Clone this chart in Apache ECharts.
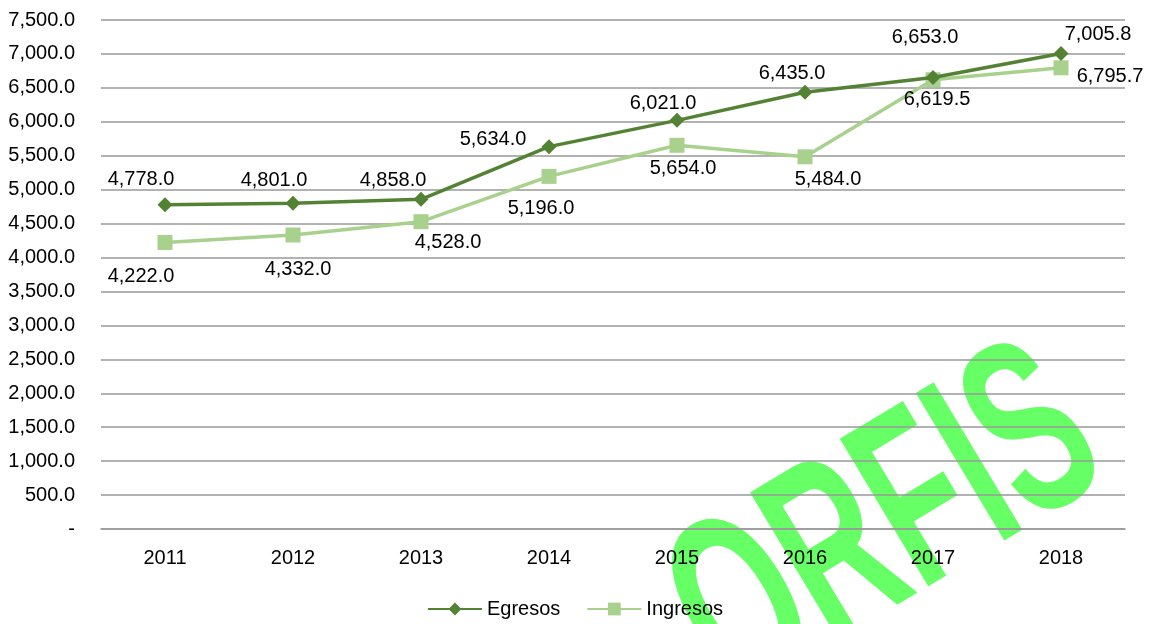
<!DOCTYPE html>
<html>
<head>
<meta charset="utf-8">
<script src="https://cdn.jsdelivr.net/npm/echarts@6/dist/echarts.min.js"></script>
<style>
  html, body { margin: 0; padding: 0; background: #fff; }
  #main { width: 1150px; height: 624px; }
</style>
</head>
<body>
<div id="main"></div>
<script>
// datos
var years = ['2011', '2012', '2013', '2014', '2015', '2016', '2017', '2018'];
var egresos = [4778.0, 4801.0, 4858.0, 5634.0, 6021.0, 6435.0, 6653.0, 7005.8];
var ingresos = [4222.0, 4332.0, 4528.0, 5196.0, 5654.0, 5484.0, 6619.5, 6795.7];

// posicion de etiquetas (colocadas a mano como en el original)
var offEgr = [[-24, -25], [-19, -23], [-28, -19], [-56, -7], [-14, -17], [-13, -19], [-8, -40], [37, -19]];
var offIng = [[-24, 34], [5, 34], [27, 21], [-8, 32], [6, 23], [23, 23], [4, 20], [49, 9]];

var fontFam = '"Liberation Sans", Arial, sans-serif';

function fmt(v) {
    if (v === 0) return '-';
    var s = v.toFixed(1).split('.');
    return s[0].replace(/\B(?=(\d{3})+(?!\d))/g, ',') + '.' + s[1];
}

function withLabels(values, offs) {
    return values.map(function (v, i) {
        return { value: v, label: { offset: offs[i] } };
    });
}

var myChart = echarts.init(document.getElementById('main'));
var option = {
    backgroundColor: '#fff',
    textStyle: { fontFamily: fontFam },
    graphic: [{
        type: 'text',
        z: -10,
        x: 888,
        y: 530,
        scaleX: 0.58,
        scaleY: 1,
        rotation: 31 * Math.PI / 180,
        style: {
            text: 'ORFIS',
            fill: '#66FF66',
            font: 'bold 250px ' + fontFam,
            align: 'center',
            verticalAlign: 'middle'
        }
    }],
    grid: { left: 101, right: 25, top: 20, bottom: 95 },
    legend: {
        bottom: 0,
        left: 'center',
        itemWidth: 54,
        itemHeight: 16,
        itemGap: 26,
        textStyle: { fontSize: 20, color: '#000', fontFamily: fontFam },
        data: ['Egresos', 'Ingresos']
    },
    xAxis: {
        type: 'category',
        data: years,
        boundaryGap: true,
        axisLine: { show: true, lineStyle: { color: '#999', width: 1.5 } },
        axisTick: { show: false },
        axisLabel: { color: '#000', fontSize: 20, margin: 19, fontFamily: fontFam }
    },
    yAxis: {
        type: 'value',
        min: 0,
        max: 7500,
        interval: 500,
        axisLine: { show: false },
        axisTick: { show: false },
        splitLine: { lineStyle: { color: '#999', width: 1.5 } },
        axisLabel: { color: '#000', fontSize: 20, margin: 26, fontFamily: fontFam, formatter: fmt }
    },
    series: [{
        name: 'Egresos',
        type: 'line',
        data: withLabels(egresos, offEgr),
        symbol: 'diamond',
        symbolSize: 15,
        color: '#548235',
        lineStyle: { width: 3.5, color: '#548235' },
        itemStyle: { color: '#548235' },
        label: {
            show: true, position: 'inside', color: '#000', fontSize: 20,
            fontFamily: fontFam,
            formatter: function (p) { return fmt(p.value); }
        },
        z: 3
    }, {
        name: 'Ingresos',
        type: 'line',
        data: withLabels(ingresos, offIng),
        symbol: 'rect',
        symbolSize: 15,
        color: '#A9D18E',
        lineStyle: { width: 3.5, color: '#A9D18E' },
        itemStyle: { color: '#A9D18E' },
        label: {
            show: true, position: 'inside', color: '#000', fontSize: 20,
            fontFamily: fontFam,
            formatter: function (p) { return fmt(p.value); }
        },
        z: 2
    }]
};
myChart.setOption(option);
</script>
</body>
</html>
